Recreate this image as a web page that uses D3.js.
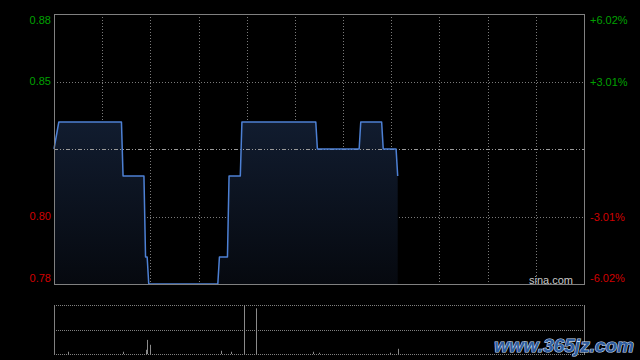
<!DOCTYPE html>
<html>
<head>
<meta charset="utf-8">
<script src="https://cdn.jsdelivr.net/npm/d3@7"></script>
<style>
  html, body { margin: 0; padding: 0; background: #000; }
  svg { display: block; }
</style>
</head>
<body>
<script>
// Previous close and the max swing used for the y range
const prevClose = 0.83;
const priceSwing = 0.05;

// Price labels (left) and percent labels (right), top to bottom
const priceLabels = ["0.88", "0.85", "0.80", "0.78"];
const pctLabels = ["+6.02%", "+3.01%", "-3.01%", "-6.02%"];

// Intraday price break points (HK session)
const priceTimes = ["09:30", "09:33", "10:12", "10:13", "10:26", "10:27", "10:28", "10:29",
  "11:12", "11:13", "11:18", "11:19", "11:26", "11:27", "13:13", "13:14",
  "13:40", "13:41", "13:54", "13:55", "14:03", "14:04"];
const prices = [0.83, 0.84, 0.84, 0.82, 0.82, 0.79, 0.79, 0.78,
  0.78, 0.79, 0.79, 0.82, 0.82, 0.84, 0.84, 0.83,
  0.83, 0.84, 0.84, 0.83, 0.83, 0.82];

// Minutes with traded volume
const volTimes = ["09:39", "10:13", "10:27", "10:28", "10:30", "11:14", "11:20",
  "11:28", "11:36", "13:11", "13:15", "13:59", "14:04"];
const volumes = [46000, 46000, 86000, 288000, 188000, 66000, 46000,
  1000000, 932000, 46000, 26000, 26000, 106000];

const width = 640;
const height = 360;
const plot = { left: 54, right: 584, top: 14, bottom: 284 };
const volBox = { top: 305, bottom: 354 };

const svg = d3
  .select("body")
  .append("svg")
  .attr("width", width)
  .attr("height", height)
  .style("background", "#000");

// trading minute since 09:30, lunch break removed
function tradeMinute(t) {
  const [h, m] = t.split(":").map(Number);
  const mins = h * 60 + m;
  return mins <= 720 ? mins - 570 : mins - 780 + 150;
}

// Scales
const xscale = d3.scaleLinear().domain([0, 330]).range([plot.left, plot.right]);
const yscale = d3
  .scaleLinear()
  .domain([prevClose - priceSwing, prevClose + priceSwing])
  .range([plot.bottom, plot.top]);
const vscale = d3
  .scaleLinear()
  .domain([0, d3.max(volumes)])
  .range([volBox.bottom, volBox.top]);

const data = priceTimes.map((t, i) => ({ m: tradeMinute(t), p: prices[i] }));
const vdata = volTimes.map((t, i) => ({ m: tradeMinute(t), v: volumes[i] }));

// gradient for area under the line
const defs = svg.append("defs");
const grad = defs
  .append("linearGradient")
  .attr("id", "areaFill")
  .attr("x1", 0).attr("y1", 0).attr("x2", 0).attr("y2", 1);
grad.append("stop").attr("offset", "0%").attr("stop-color", "#111c2f");
grad.append("stop").attr("offset", "100%").attr("stop-color", "#06090f");

// vertical grid every half hour
svg
  .append("g")
  .selectAll("line")
  .data(d3.range(30, 330, 30))
  .join("line")
  .attr("x1", (d) => Math.round(xscale(d)) + 0.5)
  .attr("x2", (d) => Math.round(xscale(d)) + 0.5)
  .attr("y1", plot.top)
  .attr("y2", plot.bottom)
  .attr("stroke", "#7a7a7a")
  .attr("stroke-dasharray", "1,2");

// horizontal grid at +-half swing
const hGrid = [prevClose + priceSwing / 2, prevClose - priceSwing / 2];
svg
  .append("g")
  .selectAll("line")
  .data(hGrid)
  .join("line")
  .attr("x1", plot.left)
  .attr("x2", plot.right)
  .attr("y1", (d) => Math.round(yscale(d)) + 0.5)
  .attr("y2", (d) => Math.round(yscale(d)) + 0.5)
  .attr("stroke", "#7a7a7a")
  .attr("stroke-dasharray", "1,2");

// area + line
const area = d3
  .area()
  .x((d) => xscale(d.m))
  .y0(plot.bottom)
  .y1((d) => yscale(d.p));
const line = d3
  .line()
  .x((d) => xscale(d.m))
  .y((d) => yscale(d.p));

svg.append("path").datum(data).attr("d", area).attr("fill", "url(#areaFill)");

// previous close line (dash dot)
svg
  .append("line")
  .attr("x1", plot.left)
  .attr("x2", plot.right)
  .attr("y1", Math.round(yscale(prevClose)) + 0.5)
  .attr("y2", Math.round(yscale(prevClose)) + 0.5)
  .attr("stroke", "#9a9a9a")
  .attr("stroke-dasharray", "4,2,1,2,1,2");

svg
  .append("path")
  .datum(data)
  .attr("d", line)
  .attr("fill", "none")
  .attr("stroke", "#4d80d4")
  .attr("stroke-width", 1.5)
  .attr("stroke-linejoin", "round");

// main frame
svg
  .append("rect")
  .attr("x", plot.left + 0.5)
  .attr("y", plot.top + 0.5)
  .attr("width", plot.right - plot.left)
  .attr("height", plot.bottom - plot.top)
  .attr("fill", "none")
  .attr("stroke", "#808080");

// left price labels
const labelY = [plot.top + 6, yscale(hGrid[0]), yscale(hGrid[1]), plot.bottom - 6];
const labelColor = ["#00a000", "#00a000", "#d00000", "#d00000"];

svg
  .append("g")
  .selectAll("text")
  .data(priceLabels)
  .join("text")
  .attr("x", plot.left - 3)
  .attr("y", (d, i) => labelY[i])
  .attr("dy", "0.36em")
  .attr("text-anchor", "end")
  .attr("fill", (d, i) => labelColor[i])
  .style("font", "11px 'Liberation Sans', Arial, sans-serif")
  .text((d) => d);

// right percent labels
svg
  .append("g")
  .selectAll("text")
  .data(pctLabels)
  .join("text")
  .attr("x", plot.right + 6)
  .attr("y", (d, i) => labelY[i] + 0.5)
  .attr("dy", "0.36em")
  .attr("fill", (d, i) => labelColor[i])
  .style("font", "11px 'Liberation Sans', Arial, sans-serif")
  .text((d) => d);

svg
  .append("text")
  .attr("x", 573)
  .attr("y", 284)
  .attr("text-anchor", "end")
  .attr("fill", "#c8c8c8")
  .style("font", "11px 'Liberation Sans', Arial, sans-serif")
  .text("sina.com");

// volume panel
const vGrid = [volBox.top, (volBox.top + volBox.bottom) / 2, volBox.bottom];
svg
  .append("g")
  .selectAll("line")
  .data(vGrid)
  .join("line")
  .attr("x1", plot.left)
  .attr("x2", plot.right)
  .attr("y1", (d) => Math.round(d) + 0.5)
  .attr("y2", (d) => Math.round(d) + 0.5)
  .attr("stroke", "#808080")
  .attr("stroke-dasharray", "1,1");

svg
  .append("g")
  .selectAll("line")
  .data([plot.left, plot.right])
  .join("line")
  .attr("x1", (d) => d + 0.5)
  .attr("x2", (d) => d + 0.5)
  .attr("y1", volBox.top)
  .attr("y2", volBox.bottom + 1)
  .attr("stroke", "#808080");

svg
  .append("g")
  .selectAll("line")
  .data(vdata)
  .join("line")
  .attr("x1", (d) => Math.round(xscale(d.m)) + 0.5)
  .attr("x2", (d) => Math.round(xscale(d.m)) + 0.5)
  .attr("y1", vscale(0))
  .attr("y2", (d) => vscale(d.v))
  .attr("stroke", "#8a8a8a");

// site watermark
svg
  .append("text")
  .attr("x", 634)
  .attr("y", 352)
  .attr("text-anchor", "end")
  .attr("fill", "#2f5d9e")
  .attr("stroke", "#c9dcf2")
  .attr("stroke-width", 1.2)
  .attr("paint-order", "stroke")
  .style("font", "italic bold 19px 'Liberation Sans', Arial, sans-serif")
  .text("www.365jz.com");
</script>
</body>
</html>
